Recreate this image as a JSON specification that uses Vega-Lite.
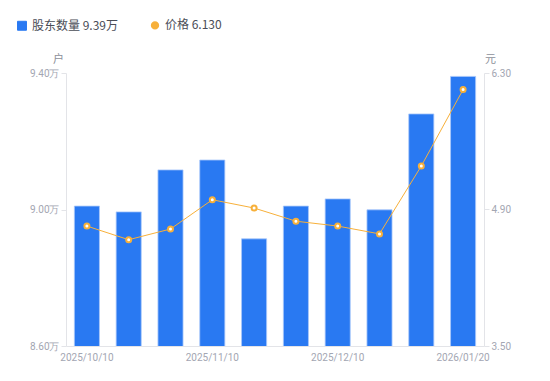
{
  "$schema": "https://vega.github.io/schema/vega-lite/v6.json",
  "width": 418,
  "height": 273,
  "autosize": {"type": "none"},
  "padding": {"left": 66, "top": 73, "right": 66, "bottom": 35},
  "background": "#ffffff",
  "config": {
    "font": "Roboto",
    "view": {"stroke": null},
    "axis": {"labelFont": "Roboto", "labelColor": "#a3a6b2", "labelFontSize": 10, "domainColor": "#e3e4e8", "tickColor": "#e3e4e8", "grid": false, "titleFont": "Noto Sans CJK SC", "titleFontWeight": "normal", "titleColor": "#8d909a", "titleFontSize": 11}
  },
  "data": {"values": [
    {"date": "2025/10/10", "holders": 9.01, "price": 4.73},
    {"date": "2025/10/20", "holders": 8.993, "price": 4.59},
    {"date": "2025/10/31", "holders": 9.116, "price": 4.70},
    {"date": "2025/11/10", "holders": 9.145, "price": 5.00},
    {"date": "2025/11/20", "holders": 8.914, "price": 4.915},
    {"date": "2025/11/28", "holders": 9.01, "price": 4.78},
    {"date": "2025/12/10", "holders": 9.031, "price": 4.73},
    {"date": "2025/12/19", "holders": 8.999, "price": 4.65},
    {"date": "2025/12/31", "holders": 9.28, "price": 5.346},
    {"date": "2026/01/20", "holders": 9.39, "price": 6.13}
  ]},
  "encoding": {
    "x": {"field": "date", "type": "ordinal", "sort": null,
      "scale": {"paddingInner": 0.4, "paddingOuter": 0.2},
      "axis": {"values": ["2025/10/10", "2025/11/10", "2025/12/10", "2026/01/20"], "labelAngle": 0, "ticks": false, "title": null, "labelPadding": 6}}
  },
  "layer": [
    {
      "mark": {"type": "bar", "color": "#2979f2", "stroke": "#a9c8fa", "strokeWidth": 0.8, "clip": true},
      "encoding": {
        "y": {"field": "holders", "type": "quantitative",
          "scale": {"domain": [8.6, 9.4], "zero": false, "nice": false},
          "axis": {"orient": "left", "values": [8.6, 9.0, 9.4], "labelExpr": "format(datum.value, '.2f') + '万'", "title": "户", "titleAngle": 0, "titleX": -8, "titleY": -9, "titleAlign": "center", "tickSize": 5, "domain": true}},
        "color": {"datum": "股东数量", "type": "nominal",
          "scale": {"domain": ["股东数量", "价格"], "range": ["#2979f2", "#f7b03a"]},
          "legend": {"orient": "none", "legendX": -50, "legendY": -54, "direction": "horizontal", "title": null,
            "labelFont": "Noto Sans CJK SC", "labelFontSize": 12, "labelColor": "#4a4d57", "symbolSize": 90, "columnPadding": 26,
            "labelExpr": "datum.label == '股东数量' ? '股东数量  9.39万' : '价格  6.130'",
            "encode": {"symbols": {"update": {
              "shape": {"signal": "datum.label == '价格' ? 'circle' : 'square'"},
              "fill": [{"test": "datum.label == '价格'", "value": "#ffffff"}, {"value": "#2979f2"}],
              "fillOpacity": {"value": 1},
              "stroke": {"signal": "datum.label == '价格' ? '#f7b03a' : '#2979f2'"},
              "strokeWidth": {"signal": "datum.label == '价格' ? 2 : 1"},
              "size": {"signal": "datum.label == '价格' ? 40 : 80"}
            }}}}}
      }
    },
    {
      "mark": {"type": "line", "color": "#f7b03a", "strokeWidth": 1, "point": {"filled": true, "fill": "#ffffff", "stroke": "#f7b03a", "strokeWidth": 2, "size": 25}},
      "encoding": {
        "y": {"field": "price", "type": "quantitative",
          "scale": {"domain": [3.5, 6.3], "zero": false, "nice": false},
          "axis": {"orient": "right", "values": [3.5, 4.9, 6.3], "format": ".2f", "title": "元", "titleAngle": 0, "titleX": 6, "titleY": -9, "titleAlign": "center", "tickSize": 5}},
        "color": {"datum": "价格", "type": "nominal",
          "legend": {"orient": "none", "legendX": -50, "legendY": -54, "direction": "horizontal", "title": null,
            "labelFont": "Noto Sans CJK SC", "labelFontSize": 12, "labelColor": "#4a4d57", "symbolSize": 90, "columnPadding": 26,
            "labelExpr": "datum.label == '股东数量' ? '股东数量  9.39万' : '价格  6.130'",
            "encode": {"symbols": {"update": {
              "shape": {"signal": "datum.label == '价格' ? 'circle' : 'square'"},
              "fill": [{"test": "datum.label == '价格'", "value": "#ffffff"}, {"value": "#2979f2"}],
              "fillOpacity": {"value": 1},
              "stroke": {"signal": "datum.label == '价格' ? '#f7b03a' : '#2979f2'"},
              "strokeWidth": {"signal": "datum.label == '价格' ? 2 : 1"},
              "size": {"signal": "datum.label == '价格' ? 40 : 80"}
            }}}}}
      }
    }
  ],
  "resolve": {"scale": {"y": "independent"}}
}
